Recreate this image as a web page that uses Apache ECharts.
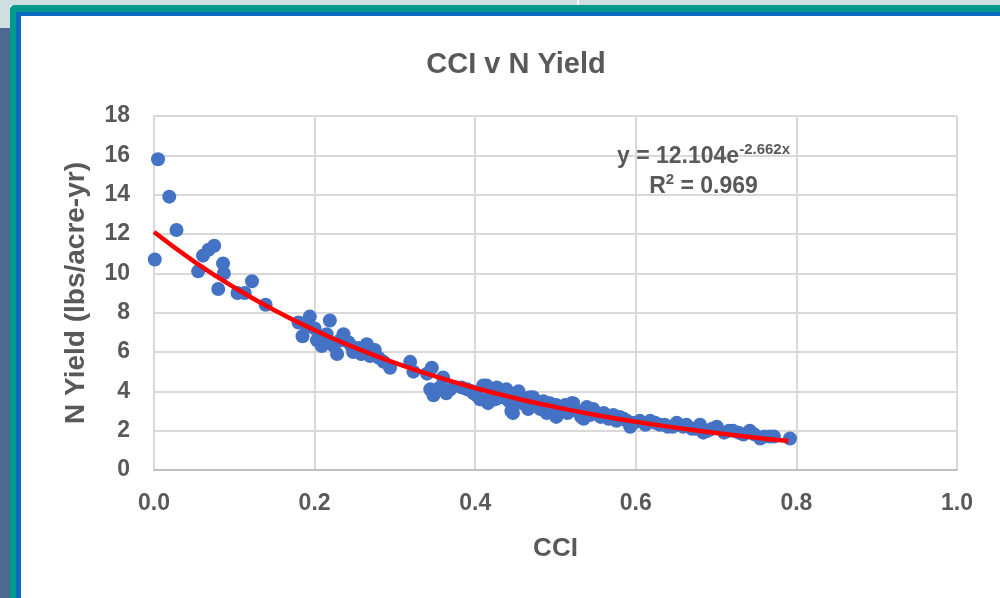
<!DOCTYPE html>
<html>
<head>
<meta charset="utf-8">
<script src="https://cdn.jsdelivr.net/npm/echarts@6/dist/echarts.min.js"></script>
<style>
  html, body { margin: 0; padding: 0; background: #ffffff; }
  #chart { width: 1000px; height: 598px; }
</style>
</head>
<body>
<div id="chart"></div>
<script>
  // scatter points (CCI, N yield)
  const cci = [
    0.001, 0.005, 0.019, 0.028, 0.055, 0.061, 0.068, 0.075, 0.080, 0.086,
    0.087, 0.104, 0.113, 0.122, 0.139, 0.180, 0.185, 0.194, 0.190, 0.203,
    0.209, 0.219, 0.215, 0.228, 0.236, 0.242, 0.248, 0.255, 0.265, 0.269,
    0.275, 0.286, 0.294, 0.319, 0.323, 0.340, 0.346, 0.344, 0.348, 0.356,
    0.360, 0.364, 0.369, 0.383, 0.396, 0.398, 0.406, 0.410, 0.414, 0.416,
    0.427, 0.435, 0.439, 0.445, 0.447, 0.454, 0.465, 0.468, 0.466, 0.472,
    0.481, 0.481, 0.489, 0.493, 0.501, 0.501, 0.510, 0.512, 0.520, 0.522,
    0.532, 0.535, 0.539, 0.547, 0.551, 0.560, 0.572, 0.580, 0.589, 0.593,
    0.605, 0.618, 0.630, 0.640, 0.651, 0.659, 0.670, 0.680, 0.684, 0.701,
    0.710, 0.721, 0.734, 0.742, 0.755, 0.767, 0.792,
    0.200, 0.212, 0.224, 0.232, 0.246, 0.258, 0.262, 0.280,
    0.390, 0.402, 0.420, 0.425, 0.432, 0.442, 0.450, 0.458, 0.476, 0.485,
    0.497, 0.505, 0.515, 0.527, 0.543, 0.556, 0.566, 0.576, 0.585, 0.598,
    0.612, 0.624, 0.636, 0.646, 0.663, 0.675, 0.690, 0.695, 0.716, 0.728,
    0.748, 0.760, 0.772
  ];
  const nYield = [
    10.7, 15.8, 13.9, 12.2, 10.1, 10.9, 11.2, 11.4, 9.2, 10.5,
    10.0, 9.0, 9.0, 9.6, 8.4, 7.5, 6.8, 7.8, 7.3, 6.6,
    6.3, 7.6, 6.9, 5.9, 6.9, 6.5, 6.0, 6.2, 6.4, 5.8,
    6.1, 5.5, 5.2, 5.5, 5.0, 4.9, 5.2, 4.1, 3.8, 4.2,
    4.7, 3.9, 4.1, 4.2, 4.0, 3.9, 3.6, 4.3, 4.3, 3.4,
    4.2, 3.9, 4.1, 3.0, 2.9, 4.0, 3.5, 3.7, 3.1, 3.7,
    3.3, 3.1, 2.9, 3.4, 3.3, 2.7, 3.1, 3.3, 3.4, 3.4,
    2.7, 2.6, 3.2, 3.1, 2.9, 2.9, 2.8, 2.7, 2.5, 2.2,
    2.5, 2.5, 2.3, 2.2, 2.4, 2.2, 2.1, 2.3, 1.9, 2.2,
    1.9, 2.0, 1.8, 2.0, 1.6, 1.7, 1.6,
    7.2, 6.6, 6.3, 6.6, 6.3, 5.9, 6.2, 5.7,
    4.1, 3.8, 3.8, 3.6, 3.7, 3.5, 3.6, 3.4, 3.3, 3.5,
    3.0, 3.0, 2.9, 3.0, 2.8, 2.7, 2.6, 2.5, 2.6, 2.4,
    2.3, 2.4, 2.3, 2.2, 2.3, 2.1, 2.0, 2.1, 2.0, 1.9,
    1.8, 1.7, 1.7
  ];

  // red trend line
  const trendX = [0, 0.05, 0.1, 0.15, 0.2, 0.25, 0.3, 0.35, 0.4, 0.45, 0.5, 0.55, 0.6, 0.65, 0.7, 0.75, 0.79];
  const trendY = [12.10, 10.60, 9.28, 8.12, 7.11, 6.22, 5.45, 4.77, 4.17, 3.65, 3.20, 2.80, 2.45, 2.15, 1.88, 1.64, 1.48];

  const xTickLabels = ['0.0', '0.2', '0.4', '0.6', '0.8', '1.0'];

  const font = 'Liberation Sans, Arial, sans-serif';
  const grey = '#595959';

  let chart = echarts.init(document.getElementById('chart'));

  let option = {
    backgroundColor: '#ffffff',
    animation: false,
    textStyle: { fontFamily: font },
    title: {
      text: 'CCI v N Yield',
      left: 511,
      top: 45,
      textAlign: 'center',
      textStyle: { color: grey, fontSize: 29, fontWeight: 'bold', fontFamily: font }
    },
    grid: { left: 154, right: 43, top: 116, bottom: 128 },
    xAxis: {
      type: 'value',
      min: 0,
      max: 1,
      interval: 0.2,
      name: 'CCI',
      nameLocation: 'middle',
      nameGap: 66,
      nameTextStyle: { color: grey, fontSize: 26, fontWeight: 'bold' },
      axisLine: { lineStyle: { color: '#bfbfbf', width: 2 } },
      axisTick: { show: false },
      axisLabel: {
        color: grey, fontSize: 23, fontWeight: 'bold', margin: 22,
        formatter: (v) => xTickLabels[Math.round(v / 0.2)]
      },
      splitLine: { show: true, lineStyle: { color: '#d9d9d9', width: 2 } }
    },
    yAxis: {
      type: 'value',
      min: 0,
      max: 18,
      interval: 2,
      name: 'N Yield (lbs/acre-yr)',
      nameLocation: 'middle',
      nameGap: 64,
      nameTextStyle: { color: grey, fontSize: 28, fontWeight: 'bold' },
      axisLine: { show: true, lineStyle: { color: '#d9d9d9', width: 2 } },
      axisTick: { show: false },
      axisLabel: { color: grey, fontSize: 23, fontWeight: 'bold', margin: 24 },
      splitLine: { lineStyle: { color: '#d9d9d9', width: 2 } }
    },
    graphic: [
      // slide frame behind the chart
      { type: 'rect', z: -10, shape: { x: 0, y: 0, width: 1000, height: 5 }, style: { fill: '#cde0df' } },
      { type: 'rect', z: -10, shape: { x: 0, y: 0, width: 10, height: 28 }, style: { fill: '#cde0df' } },
      { type: 'rect', z: -10, shape: { x: 577, y: 0, width: 2, height: 5 }, style: { fill: '#f2f7f7' } },
      { type: 'rect', z: -10, shape: { x: 0, y: 28, width: 10, height: 570 }, style: { fill: '#4c6a90' } },
      { type: 'rect', z: -9, shape: { x: 10, y: 5, width: 990, height: 7, r: [5, 0, 0, 0] }, style: { fill: '#03998f' } },
      { type: 'rect', z: -9, shape: { x: 10, y: 5, width: 6, height: 593, r: [5, 0, 0, 0] }, style: { fill: '#03998f' } },
      { type: 'rect', z: -8, shape: { x: 16, y: 12, width: 984, height: 4 }, style: { fill: '#0b6cbf' } },
      { type: 'rect', z: -8, shape: { x: 16, y: 12, width: 5, height: 586 }, style: { fill: '#0b6cbf' } },
      {
        type: 'text',
        z: 10,
        left: 617,
        top: 142,
        style: {
          text: '{a|y = 12.104e}{s|-2.662x}\n{a|R}{s|2}{a| = 0.969}',
          textAlign: 'center',
          fill: grey,
          font: 'bold 23px ' + font,
          rich: {
            a: { fontSize: 23, fontWeight: 'bold', fill: grey, lineHeight: 30 },
            s: { fontSize: 15, fontWeight: 'bold', fill: grey, verticalAlign: 'top', lineHeight: 30 }
          }
        }
      }
    ],
    series: [
      {
        name: 'points',
        type: 'scatter',
        symbolSize: 14,
        itemStyle: { color: '#4472c4', opacity: 1 },
        data: cci.map((x, i) => [x, nYield[i]])
      },
      {
        name: 'trend',
        type: 'line',
        smooth: true,
        showSymbol: false,
        z: 5,
        lineStyle: { color: '#ff0000', width: 4.5 },
        data: trendX.map((x, i) => [x, trendY[i]])
      }
    ]
  };

  chart.setOption(option);
</script>
</body>
</html>
